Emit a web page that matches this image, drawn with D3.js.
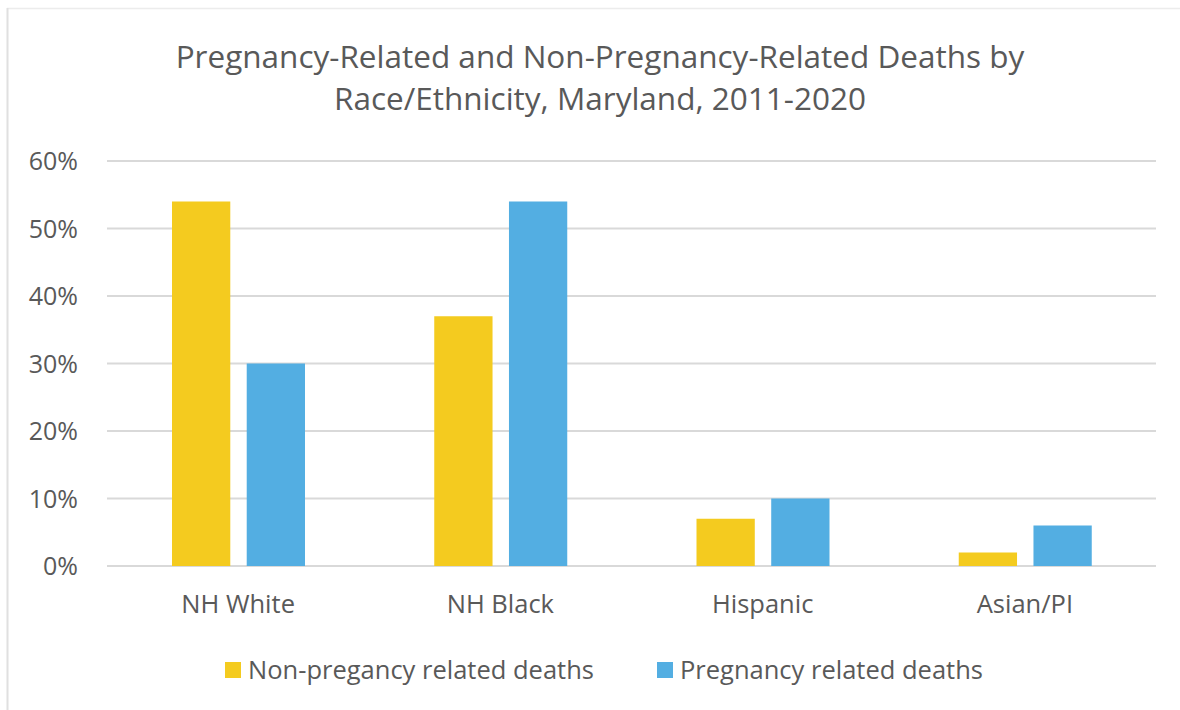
<!DOCTYPE html>
<html lang="en">
<head>
<meta charset="UTF-8">
<title>Pregnancy-Related Deaths by Race/Ethnicity</title>
<script src="https://cdn.jsdelivr.net/npm/d3@7"></script>
<style>
    body { margin: 0; background: #fff; font-family: "Open Sans", sans-serif; }
    text { fill: #595959; }
</style>
</head>
<body>
<div id="chart"></div>
<script>
    // Data
    const categories = ["NH White", "NH Black", "Hispanic", "Asian/PI"];
    const seriesNames = ["Non-pregancy related deaths", "Pregnancy related deaths"];
    const nonPregnancy = [54, 37, 7, 2];
    const pregnancy = [30, 54, 10, 6];
    const yTicks = [0, 10, 20, 30, 40, 50, 60];
    const colors = ["#F4CB1F", "#53AEE2"];

    const W = 1180, H = 710;
    const margin = { top: 161, right: 24, bottom: 144, left: 107 };
    const innerW = W - margin.left - margin.right;
    const innerH = H - margin.top - margin.bottom;

    const svg = d3.select("#chart").append("svg")
        .attr("width", W).attr("height", H);

    // chart frame: only the top and left edges show
    svg.append("line").attr("x1", 7).attr("x2", W).attr("y1", 8.5).attr("y2", 8.5)
        .attr("stroke", "#ececec").attr("stroke-width", 1.5);
    svg.append("line").attr("x1", 7.5).attr("x2", 7.5).attr("y1", 8).attr("y2", H)
        .attr("stroke", "#e0e0e0").attr("stroke-width", 2);

    // title
    const title = svg.append("text")
        .attr("text-anchor", "middle")
        .style("font-size", "31.5px");
    title.append("tspan").attr("x", 600).attr("y", 68)
        .text("Pregnancy-Related and Non-Pregnancy-Related Deaths by");
    title.append("tspan").attr("x", 600).attr("y", 110)
        .text("Race/Ethnicity, Maryland, 2011-2020");

    const g = svg.append("g").attr("transform", `translate(${margin.left},${margin.top})`);

    const x = d3.scaleBand().domain(categories).range([0, innerW]);
    const x1 = d3.scaleBand().domain([0, 1]).range([65, 198]).paddingInner(0.22);
    const y = d3.scaleLinear().domain([0, 60]).range([innerH, 0]);

    // gridlines
    g.append("g").selectAll("line").data(yTicks).join("line")
        .attr("x1", 0).attr("x2", innerW)
        .attr("y1", d => y(d)).attr("y2", d => y(d))
        .attr("stroke", "#d9d9d9").attr("stroke-width", 2);

    // y labels
    g.append("g").selectAll("text").data(yTicks).join("text")
        .attr("x", -29).attr("y", d => y(d))
        .attr("dy", "0.36em")
        .attr("text-anchor", "end")
        .style("font-size", "25px")
        .text(d => d + "%");

    // bars
    const rows = categories.map((c, i) => ({ c, vals: [nonPregnancy[i], pregnancy[i]] }));
    const groups = g.append("g").selectAll("g").data(rows).join("g")
        .attr("transform", d => `translate(${x(d.c)},0)`);
    groups.selectAll("rect").data(d => d.vals).join("rect")
        .attr("x", (d, i) => x1(i))
        .attr("width", x1.bandwidth())
        .attr("y", d => y(d))
        .attr("height", d => y(0) - y(d))
        .attr("fill", (d, i) => colors[i]);

    // x labels
    g.append("g").selectAll("text").data(categories).join("text")
        .attr("x", d => x(d) + x.bandwidth() / 2)
        .attr("y", innerH + 47)
        .attr("text-anchor", "middle")
        .style("font-size", "25.5px")
        .text(d => d);

    // legend
    const legendX = [225, 657];
    const legend = svg.append("g").selectAll("g").data(seriesNames).join("g")
        .attr("transform", (d, i) => `translate(${legendX[i]},670)`);
    legend.append("rect")
        .attr("x", 0).attr("y", -8).attr("width", 16).attr("height", 16)
        .attr("fill", (d, i) => colors[i]);
    legend.append("text")
        .attr("x", 23).attr("dy", "0.36em")
        .style("font-size", "25.5px")
        .text(d => d);
</script>
</body>
</html>
